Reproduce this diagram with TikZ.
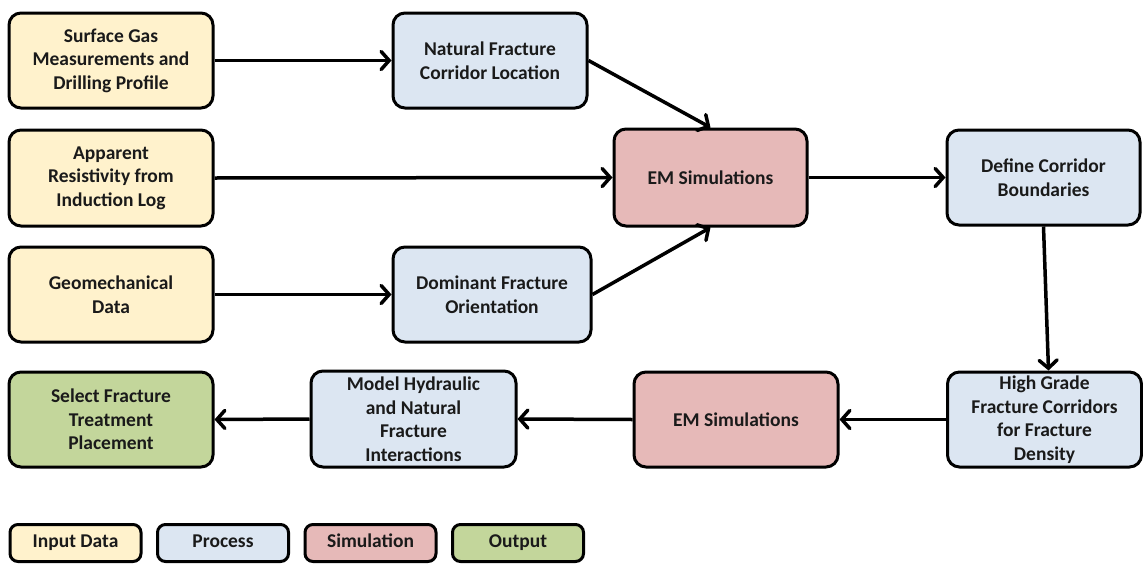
\documentclass[tikz,border=0pt]{standalone}
\usepackage{fontspec}
\setmainfont{Carlito}
\usetikzlibrary{arrows.meta}
\definecolor{inputc}{HTML}{FFF2CC}
\definecolor{procc}{HTML}{DCE6F2}
\definecolor{simc}{HTML}{E6B9B8}
\definecolor{outc}{HTML}{C3D69B}
\definecolor{txtc}{HTML}{1A1A1A}
\tikzset{
  box/.style={draw=black, line width=3pt, rounded corners=12pt, inner sep=0pt,
    align=center, text=txtc, font=\fontsize{19.5}{23.5}\selectfont\bfseries},
  inbox/.style={box, fill=inputc},
  procbox/.style={box, fill=procc},
  simbox/.style={box, fill=simc},
  outbox/.style={box, fill=outc},
  legbox/.style={draw=black, line width=3pt, rounded corners=8pt, inner sep=0pt,
    align=center, text=txtc, minimum width=131pt, minimum height=37pt,
    text height=13pt, text depth=4pt,
    font=\fontsize{19.5}{23}\selectfont\bfseries},
  conn/.style={line width=3.5pt, -{Straight Barb[length=8pt,width=18pt,line cap=round]}}
}
\begin{document}
\begin{tikzpicture}[x=1pt,y=-1pt]
\useasboundingbox (0,0) rectangle (1143,565);
% inputs
\node[inbox, minimum width=204pt, minimum height=95pt] (in1) at (111,60.5) {Surface Gas\\Measurements and\\Drilling Profile};
\node[inbox, minimum width=204pt, minimum height=96pt] (in2) at (111,178) {Apparent\\Resistivity from\\Induction Log};
\node[inbox, minimum width=204pt, minimum height=95pt] (in3) at (111,294.5) {Geomechanical\\Data};
\node[outbox, minimum width=204pt, minimum height=95pt] (sel) at (111,419.5) {Select Fracture\\Treatment\\Placement};
% processes
\node[procbox, minimum width=194pt, minimum height=95pt] (nat) at (490,60.5) {Natural Fracture\\Corridor Location};
\node[procbox, minimum width=198pt, minimum height=95pt] (dom) at (492,294.5) {Dominant Fracture\\Orientation};
\node[simbox, minimum width=193pt, minimum height=97pt] (em1) at (710.5,177.5) {EM Simulations};
\node[procbox, minimum width=193pt, minimum height=95pt] (def) at (1043.5,177.5) {Define Corridor\\Boundaries};
\node[procbox, minimum width=194pt, minimum height=95pt] (hg) at (1044.5,419.5) {High Grade\\Fracture Corridors\\for Fracture\\Density};
\node[simbox, minimum width=204pt, minimum height=95pt] (em2) at (736,419.5) {EM Simulations};
\node[procbox, minimum width=205pt, minimum height=96pt] (mod) at (413.5,419) {Model Hydraulic\\and Natural\\Fracture\\Interactions};
% connectors
\draw[conn] (in1.east) -- (nat.west);
\draw[conn] (in3.east) -- (dom.west);
\draw[conn] (nat.east) -- (em1.north);
\draw[conn] (in2.east) -- (em1.west);
\draw[conn] (dom.east) -- (em1.south);
\draw[conn] (em1.east) -- (def.west);
\draw[conn] (def.south) -- ([xshift=4pt]hg.north);
\draw[conn] (hg.west) -- (em2.east);
\draw[conn] (em2.west) -- (mod.east);
\draw[conn] (mod.west) -- (sel.east);
% legend
\node[legbox, fill=inputc] (l1) at (75.5,543) {Input Data};
\node[legbox, fill=procc] (l2) at (223,543) {Process};
\node[legbox, fill=simc] (l3) at (370.5,543) {Simulation};
\node[legbox, fill=outc] (l4) at (518,543) {Output};
\end{tikzpicture}
\end{document}
